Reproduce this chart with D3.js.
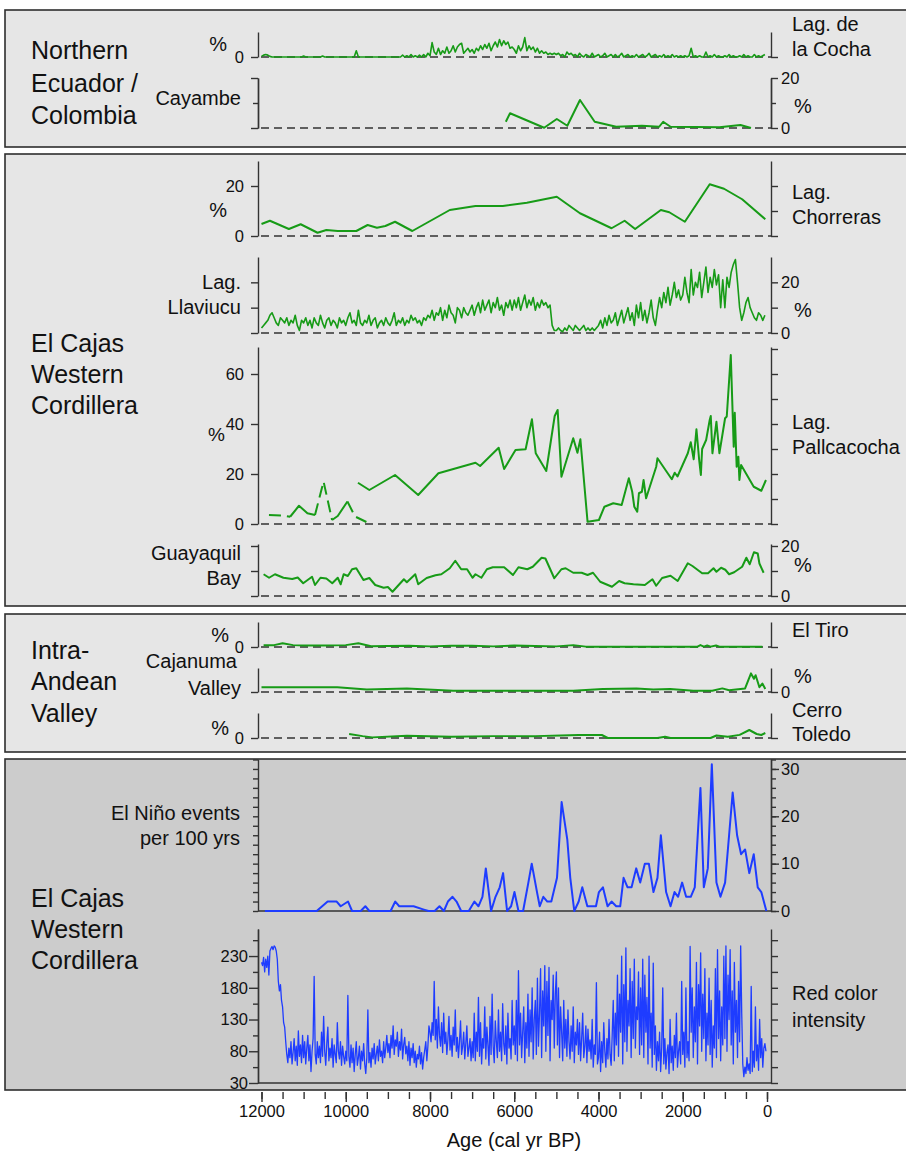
<!DOCTYPE html>
<html><head><meta charset="utf-8">
<script src="https://cdn.jsdelivr.net/npm/d3@7"></script>
<style>body{margin:0;background:#fff}svg{display:block}</style>
</head><body><svg id="c" width="906" height="1152"></svg>
<script>
// ---------------- DATA ----------------
// Lag. de la Cocha (% per millennium block, 12000 -> 0 cal yr BP)
const cochaBlocks = [
 [0.5,1.5,2,1.5,0.5,0,0,0,0,0,0,0,0,0,0,0,0,0,0,0],
 [0.8,0,0,0,0,0,0,0,0,0.8,0,0,0,0,0,0,0,0,0,0],
 [0,0,0,0,0,5,0,0,0,0,0,0,0,0,0,0,0,0,0,0],
 [0,0,0,0,0,0,0,1.5,0,1,0,2,0,1,0,1.5,0,2,0,3],
 [1,11.5,4,2,7,2,5,3,8,3,5,9,4,8,10,11,3,5,7,4],
 [6,3,7,5,9,6,10,7,11,5,9,12,8,14,9,13,10,12,7,8],
 [6,3,9,5,8,15.5,5,9,6,8,4,7,3,5,3,4,2,3,2,3],
 [2,3,1,2,0,4,2,3,1,2,0,3,1,0,2,1,0,3,0,1],
 [2,0,1,3,0,1,2,0,2,0,1,3,0,1,2,0,1,0,2,0],
 [1,2,0,1,3,0,1,2,0,1,0,2,0,1,0,2,0,1,0,1],
 [0,1,0,1,7,0,1,0,1,0,0,4,0,1,0,2,0,1,0,0],
 [1,0,2,0,1,0,0,1,0,2,0,1,0,0,2,0,1,0,1,2]
];
const cayambe = [[6200,2.5],[6100,5.9],[5290,0.1],[4990,3.6],[4740,0.9],[4440,11.2],[4090,2.5],[3580,0.5],[2970,0.9],[2560,0.5],[2465,2.5],[2290,0.5],[1130,0.3],[630,1.2],[380,0]];
const chorreras = [[12000,4.8],[11800,6.1],[11350,2.8],[11070,4.7],[10670,1.3],[10460,2.4],[10190,2.0],[9750,2.0],[9480,4.4],[9260,3.3],[9060,4.0],[8830,5.7],[8420,2.0],[7530,10.4],[6920,12.0],[6270,12.0],[5700,13.3],[4990,15.7],[4440,9.1],[3690,3.1],[3380,6.1],[3130,2.8],[2520,10.4],[2320,9.5],[1950,5.7],[1360,20.7],[1020,18.9],[590,14.7],[40,6.7]];
const llaviucuBlocks = [
 [2,3,4,5,7,8,6,4,3,6,5,4,6,3,5,4,7,3,1,5],
 [4,6,3,5,2,6,4,3,7,4,2,5,6,3,5,4,2,6,4,5],
 [3,6,8,4,5,3,9,4,3,5,4,7,3,5,6,2,4,5,3,6],
 [4,3,5,8,3,5,4,6,3,5,4,7,5,6,4,5,3,6,5,7],
 [6,9,5,8,7,10,5,9,6,11,8,7,4,10,9,6,10,8,7,9],
 [11,7,10,12,8,13,9,11,13,8,12,10,14,9,11,7,12,10,13,9],
 [13,10,14,9,12,15,10,13,11,14,9,12,10,13,11,12,10,11,3,1],
 [1,2,1,0.5,2,1,3,2,1,3,2,1,2,3,1,2,1,2,1,2],
 [3,5,2,6,3,7,4,5,8,3,6,9,4,7,10,5,8,3,11,6],
 [12,5,9,4,8,13,6,3,9,14,10,16,12,18,11,15,20,14,17,13],
 [15,22,16,12,25,15,20,18,24,14,20,26,16,22,18,25,19,23,10,21],
 [10,22,18,24,27,29,20,10,5,8,12,14,10,8,6,5,8,7,5,7]
];
const pallDashA = [[11823,3.6],[11500,3.4],[11320,2.9]];
const pallSolidA = [[11320,2.9],[11110,7.3],[10910,4.3],[10730,3.6]];
const pallDashB = [[10730,3.6],[10527,17],[10325,1.6]];
const pallSolidB = [[10325,1.6],[10190,3.2],[9960,9]];
const pallDashC = [[9960,9],[9780,3],[9510,0.8]];
const pallcacocha = [[9710,16.5],[9440,13.6],[8830,19.6],[8280,11.6],[7800,20.3],[6920,24.5],[6810,23.2],[6370,30.5],[6240,22.0],[5970,29.6],[5730,29.9],[5580,41.9],[5490,28.3],[5240,21.2],[5040,43.2],[4970,45.6],[4880,18.9],[4600,34.3],[4500,28.5],[4430,33.9],[4260,0.9],[3990,1.6],[3860,6.9],[3650,8.3],[3450,7.6],[3280,18.3],[3200,12.9],[3150,6.9],[3080,4.9],[3040,12.3],[2970,12.9],[2930,17.6],[2870,10.3],[2630,22.9],[2600,26.3],[2260,17.9],[2190,20.5],[2125,19.0],[1880,28.3],[1810,32.7],[1740,25.9],[1675,37.9],[1610,25.6],[1570,19.6],[1540,30],[1445,33.6],[1360,41.6],[1335,43.2],[1295,28.3],[1200,40.9],[1130,28.3],[995,42.3],[955,43],[860,67.6],[790,30.9],[765,44.5],[720,22.9],[680,26.9],[655,17.6],[615,23.6],[315,14.9],[135,13.3],[25,17.6]];
const guayaquil = [[11950,8.7],[11820,7.3],[11680,8.7],[11480,7.3],[11270,6.8],[11140,7.4],[11010,5.1],[10800,7.7],[10730,4.4],[10600,7.3],[10460,7.0],[10320,5.1],[10190,7.3],[10120,4.7],[10050,8.7],[9950,8.0],[9850,10.7],[9750,11.1],[9580,6.4],[9440,7.2],[9300,4.4],[9100,3.3],[9000,3.6],[8890,1.7],[8620,6.7],[8550,5.5],[8350,8.7],[8280,4.7],[8080,7.2],[7870,8.3],[7730,8.7],[7530,11.1],[7400,14.1],[7260,10.7],[7120,10.7],[6990,7.3],[6920,8.7],[6780,7.3],[6650,10.7],[6510,11.5],[6240,11.5],[6030,8.4],[5900,11.5],[5690,10.7],[5560,11.7],[5350,15.3],[5260,15.0],[5050,7.1],[4880,10.7],[4780,11.1],[4600,9.3],[4400,9.3],[4260,8.4],[4130,9.3],[3960,5.7],[3680,3.7],[3510,6.0],[3380,5.1],[3170,4.7],[2900,4.4],[2720,6.7],[2630,4.1],[2490,7.2],[2290,8.1],[2120,6.0],[1880,13.1],[1770,12],[1540,9.1],[1400,9.1],[1270,11.1],[1200,9.7],[1090,11.3],[990,10.5],[900,8.7],[780,9.5],[590,11.7],[490,15.3],[410,12.7],[310,17.5],[220,17],[180,13],[80,9.3]];
const elTiro = [[11950,1.5],[11700,1.5],[11500,3],[11250,1.5],[11000,1.2],[10500,1.2],[10000,1.5],[9700,3],[9400,0.6],[9000,0.8],[8500,1],[8000,0.5],[7500,1],[7000,1],[6500,0.5],[6000,1.2],[5500,0.8],[5000,0.5],[4600,1.5],[4300,0.3],[3500,0.3],[3000,0.3],[2500,0.3],[2000,0.3],[1650,0.3],[1580,1.5],[1500,0.3],[1420,1.2],[1340,0.3],[1210,1.2],[1130,0.3],[900,0.3],[500,0.3],[110,0.3]];
const cajanuma = [[12000,4],[10200,4],[9500,2],[8550,3],[7450,1],[4600,1],[3900,2.5],[3100,3],[2700,2],[2300,2.5],[1750,1],[1300,1],[1060,3],[900,1.5],[520,3],[380,15.5],[310,11],[270,14],[180,4],[110,7],[40,2.5]];
const cerroToledo = [[9920,3.2],[9600,1.5],[9370,0.5],[8550,1.8],[7500,1],[6500,1.5],[5500,1.5],[4900,2],[4470,2.4],[3920,2.4],[3780,0],[2600,0],[2420,1],[2290,0],[1340,0],[1200,2],[930,1],[650,2.5],[420,6.4],[245,3.2],[135,2.4],[40,4]];
const elNino = [[11920,0],[10690,0],[10430,2],[10215,2],[10120,1],[9945,2],[9850,0],[9645,0],[9535,1],[9440,0],[8935,0],[8825,2],[8730,1],[8390,1],[8145,0.3],[8035,0],[7890,0],[7775,1],[7670,0],[7575,2],[7465,3],[7370,2],[7260,0],[7080,0],[6945,2],[6850,1],[6755,3],[6675,9],[6550,0],[6445,3],[6345,5],[6265,8],[6170,0],[6075,1],[5995,4],[5900,0],[5790,0],[5665,6],[5585,10],[5460,4],[5395,1],[5310,3],[5215,2],[5120,2],[4985,7],[4875,23],[4740,15],[4670,7],[4575,0],[4470,2],[4385,5],[4265,1],[4060,1],[3990,4],[3895,5],[3785,1],[3690,2],[3580,1],[3485,1],[3405,7],[3310,5],[3215,5],[3105,9],[3010,6],[2900,10],[2805,10],[2695,4],[2600,7],[2520,16],[2395,4],[2290,1],[2195,4],[2110,3],[2015,6],[1920,3],[1810,3],[1715,5],[1580,26],[1500,5],[1405,9],[1310,31],[1200,6],[1105,3],[995,6],[900,16],[815,25],[710,16],[615,12],[520,13],[420,8],[315,12],[220,5],[135,4],[15,0]];
const redColorBlocks = [
 [220,215,228,205,225,212,230,200,238,242,245,240,246,244,238,225,190,175,185,160,150,125,118,95,75,62,85,70,95,60,78,100,65,88,58,112,72,90,62,105],
 [70,95,60,85,105,65,90,48,80,100,198,75,60,95,70,88,62,110,72,135,80,58,92,118,65,85,70,100,55,90,75,62,125,80,68,95,58,88,72,60],
 [80,65,168,72,55,90,62,85,48,75,95,58,70,88,52,80,65,92,60,45,70,145,62,78,55,85,68,92,60,75,88,65,98,72,80,62,95,70,85,105],
 [78,92,70,105,85,120,75,98,88,110,72,95,82,115,68,90,102,76,88,65,95,58,85,70,92,62,80,55,75,68,88,60,78,52,70,82,95,65,88,120],
 [110,95,125,105,190,98,130,85,150,105,88,125,78,140,92,110,75,98,135,82,105,72,118,90,145,80,102,70,95,128,75,88,110,68,92,120,72,85,100,65],
 [95,70,140,65,110,80,165,72,125,60,100,85,150,68,118,90,58,135,75,170,88,62,128,95,70,145,80,110,65,155,92,75,120,60,140,85,100,68,160,90],
 [120,75,160,65,207,90,140,70,110,150,62,125,85,170,72,145,95,180,68,130,160,75,195,88,140,210,70,175,120,215,80,190,105,212,65,160,130,200,85,170],
 [205,90,180,70,150,110,65,160,85,130,72,145,95,68,120,80,150,62,110,90,130,75,125,65,100,140,70,88,120,62,115,80,98,68,130,55,90,75,188,60],
 [70,110,48,95,62,125,80,55,100,68,130,75,58,105,160,65,140,90,200,72,170,110,230,60,185,95,243,80,160,120,210,70,190,100,225,85,150,130,205,75],
 [180,90,225,70,200,110,165,60,230,85,140,55,219,75,120,50,95,65,110,48,85,180,60,100,52,78,90,45,130,62,88,50,105,70,140,55,80,95,60,190],
 [75,110,55,180,70,95,65,245,110,180,70,150,95,220,60,185,120,235,80,170,100,210,65,140,90,195,75,160,55,120,85,210,70,240,100,175,65,150,90,230],
 [100,246,80,200,130,240,90,175,60,220,110,160,70,190,95,246,140,60,40,55,45,70,50,60,45,182,48,80,55,150,65,90,50,130,70,100,55,85,92,80]
];
// tick values / labels
const xMinorTicks = [12000,11500,11000,10500,10000,9500,9000,8500,8000,7500,7000,6500,6000,5500,5000,4500,4000,3500,3000,2500,2000,1500,1000,500,0];
const xMajorTicks = [12000,10000,8000,6000,4000,2000,0];
const pctTicks3 = [0,10,20];
const chorLeftTicks = [0,20];
const pallLeftTicks = [0,20,40,60];
const pallRightTicks = [0,10,20,30,40,50,60,70];
const ninoMinorTicks = [0,2,4,6,8,10,12,14,16,18,20,22,24,26,28,30,32];
const ninoMajorTicks = [0,10,20,30];
const redMajorTicks = [30,80,130,180,230];
const redMinorTicks = [55,105,155,205,255];
const redRightTicks = [30,55,80,105,130,155,180,205,230,255];

// ---------------- DRAWING ----------------
const svg = d3.select("#c");
const FONT = "'Liberation Sans', Arial, Helvetica, sans-serif";
const GREEN = "#179b17", BLUE = "#1e3cff", AXC = "#333";
const AXL = 258, AXR = 771;
const x = d3.scaleLinear().domain([12000, 0]).range([261.5, 767]);

function blocks(bl) {
  const out = [];
  bl.forEach((b, k) => { const a0 = 12000 - k * 1000, st = 1000 / b.length; b.forEach((v, j) => out.push([a0 - j * st, v])); });
  return out;
}

// panels
[[10,147,"#e6e6e6"],[154,606,"#e6e6e6"],[614,752,"#e6e6e6"],[759,1090,"#cccccc"]].forEach(p => {
  svg.append("rect").attr("x", 5).attr("y", p[0]).attr("width", 960).attr("height", p[1] - p[0])
    .attr("fill", p[2]).attr("stroke", "#2e2e2e").attr("stroke-width", 1.6);
});

const yCocha = d3.scaleLinear().domain([0,20]).range([57,32]);
const yCay = d3.scaleLinear().domain([0,20]).range([128,78]);
const yChor = d3.scaleLinear().domain([0,30]).range([236,161]);
const yLlav = d3.scaleLinear().domain([0,30]).range([333,257]);
const yPall = d3.scaleLinear().domain([0,70.8]).range([524,347]);
const yGuay = d3.scaleLinear().domain([0,20.8]).range([596,544]);
const yTiro = d3.scaleLinear().domain([0,20]).range([647,622]);
const yCaja = d3.scaleLinear().domain([0,20]).range([692,668]);
const yTol = d3.scaleLinear().domain([0,20]).range([738,713]);
const yNino = d3.scaleLinear().domain([0,32.1]).range([911,759]);
const yRed = d3.scaleLinear().domain([30,272.6]).range([1083,929]);

function baseline(ys, v, dashed) {
  svg.append("line").attr("x1", AXL + (dashed ? 3 : 0)).attr("x2", AXR).attr("y1", ys(v)).attr("y2", ys(v))
    .attr("stroke", AXC).attr("stroke-width", 1.6).attr("stroke-dasharray", dashed ? "8,5" : null);
}
[yCocha, yCay, yChor, yLlav, yPall, yGuay, yTiro, yCaja, yTol].forEach(s => baseline(s, 0, true));
baseline(yNino, 0, false);
baseline(yRed, 30, false);

function series(data, ys, color, w, dash) {
  const line = d3.line().x(d => x(d[0])).y(d => ys(d[1]));
  svg.append("path").datum(data).attr("d", line).attr("fill", "none").attr("stroke", color)
    .attr("stroke-width", w).attr("stroke-linejoin", "round").attr("stroke-dasharray", dash || null);
}
series(blocks(cochaBlocks), yCocha, GREEN, 1.6);
series(cayambe, yCay, GREEN, 2);
series(chorreras, yChor, GREEN, 2);
series(blocks(llaviucuBlocks), yLlav, GREEN, 1.6);
series(pallDashA, yPall, GREEN, 2, "12,6");
series(pallSolidA, yPall, GREEN, 2);
series(pallDashB, yPall, GREEN, 2, "12,6");
series(pallSolidB, yPall, GREEN, 2);
series(pallDashC, yPall, GREEN, 2, "12,6");
series(pallcacocha, yPall, GREEN, 2);
series(guayaquil, yGuay, GREEN, 2);
series(elTiro, yTiro, GREEN, 2);
series(cajanuma, yCaja, GREEN, 2);
series(cerroToledo, yTol, GREEN, 2);
series(elNino, yNino, BLUE, 2);
series(blocks(redColorBlocks), yRed, BLUE, 1.3);

function vAxis(scale, side, ticks, size, labels, pad, fs) {
  const gen = side === "left" ? d3.axisLeft(scale) : d3.axisRight(scale);
  gen.tickValues(ticks).tickSize(size).tickSizeOuter(0).tickPadding(pad === undefined ? 7 : pad)
    .tickFormat(d => (labels && labels.indexOf(d) >= 0) ? String(d) : "");
  const g = svg.append("g").attr("transform", `translate(${side === "left" ? AXL : AXR},0)`).call(gen);
  g.attr("font-family", FONT).attr("font-size", fs || 16.5);
  g.select(".domain").attr("stroke", AXC).attr("stroke-width", 1.4);
  g.selectAll(".tick line").attr("stroke", AXC).attr("stroke-width", 1.4);
  g.selectAll(".tick text").attr("fill", "#111");
}
// Cocha
vAxis(yCocha, "left", [0], 7, [0]);
vAxis(yCocha, "right", [0], 7);
// Cayambe
vAxis(yCay, "left", [0,20], 7); vAxis(yCay, "left", [10], 5);
vAxis(yCay, "right", [0,20], 7, [0,20], 3); vAxis(yCay, "right", [10], 5);
// Chorreras
vAxis(yChor, "left", chorLeftTicks, 7, chorLeftTicks);
vAxis(yChor, "right", pctTicks3, 7);
// Llaviucu
vAxis(yLlav, "left", pctTicks3, 7);
vAxis(yLlav, "right", pctTicks3, 7, [0,20], 3);
// Pallcacocha
vAxis(yPall, "left", pallLeftTicks, 7, pallLeftTicks);
vAxis(yPall, "right", pallRightTicks, 7);
// Guayaquil
vAxis(yGuay, "left", pctTicks3, 7);
vAxis(yGuay, "right", pctTicks3, 7, [0,20], 3);
// El Tiro, Cajanuma, Cerro Toledo
vAxis(yTiro, "left", [0], 7, [0]); vAxis(yTiro, "right", [0], 7);
vAxis(yCaja, "left", [0], 7); vAxis(yCaja, "right", [0], 7, [0], 3);
vAxis(yTol, "left", [0], 7, [0]); vAxis(yTol, "right", [0], 7);
// El Nino
vAxis(yNino, "left", ninoMinorTicks, 5);
vAxis(yNino, "right", ninoMinorTicks, 5);
vAxis(yNino, "right", ninoMajorTicks, 8, ninoMajorTicks, 2);
// Red colour
vAxis(yRed, "left", redMinorTicks, 5);
vAxis(yRed, "left", redMajorTicks, 9, redMajorTicks, 1);
vAxis(yRed, "right", redRightTicks, 7);

// x axis
function xAxis(ticks, size, labels) {
  const gen = d3.axisBottom(x).tickValues(ticks).tickSize(size).tickSizeOuter(0).tickPadding(3)
    .tickFormat(d => labels ? String(d) : "");
  const g = svg.append("g").attr("transform", "translate(0,1092)").call(gen);
  g.attr("font-family", FONT).attr("font-size", 16.5);
  g.select(".domain").remove();
  g.selectAll(".tick line").attr("stroke", AXC).attr("stroke-width", 1.4);
  g.selectAll(".tick text").attr("fill", "#111");
}
xAxis(xMinorTicks, 7, false);
xAxis(xMajorTicks, 10, true);

// texts
function txt(t, xx, yy, size, anchor) {
  svg.append("text").attr("x", xx).attr("y", yy).attr("font-size", size).attr("font-family", FONT)
    .attr("text-anchor", anchor || "start").attr("fill", "#111").text(t);
}
// region titles
[["Northern",59],["Ecuador /",92],["Colombia",124],
 ["El Cajas",352],["Western",383],["Cordillera",414],
 ["Intra-",659],["Andean",690],["Valley",722],
 ["El Cajas",907],["Western",938],["Cordillera",969]].forEach(d => txt(d[0], 31, d[1], 25));
// left labels
txt("%", 227, 51, 20, "end");
txt("Cayambe", 241, 105, 20, "end");
txt("%", 227, 217, 20, "end");
txt("Lag.", 241, 289, 20, "end");
txt("Llaviucu", 241, 314, 20, "end");
txt("%", 225, 441, 19, "end");
txt("Guayaquil", 241, 560, 20, "end");
txt("Bay", 241, 585, 20, "end");
txt("%", 229, 642, 20, "end");
txt("Cajanuma", 237, 668, 20, "end");
txt("Valley", 241, 695, 20, "end");
txt("%", 229, 735, 20, "end");
txt("El Niño events", 240, 820, 20, "end");
txt("per 100 yrs", 240, 845, 20, "end");
// right labels
txt("Lag. de", 792, 31, 20); txt("la Cocha", 792, 56, 20);
txt("%", 794, 113, 20);
txt("Lag.", 792, 199, 20); txt("Chorreras", 792, 224, 20);
txt("%", 794, 317, 20);
txt("Lag.", 792, 429, 20); txt("Pallcacocha", 792, 454, 20);
txt("%", 794, 572, 20);
txt("El Tiro", 792, 637, 20);
txt("%", 794, 683, 20);
txt("Cerro", 792, 717, 20); txt("Toledo", 792, 741, 20);
txt("Red color", 792, 1000, 20); txt("intensity", 792, 1027, 20);
// x title
txt("Age (cal yr BP)", 514, 1147, 20, "middle");
</script>
</body></html>
